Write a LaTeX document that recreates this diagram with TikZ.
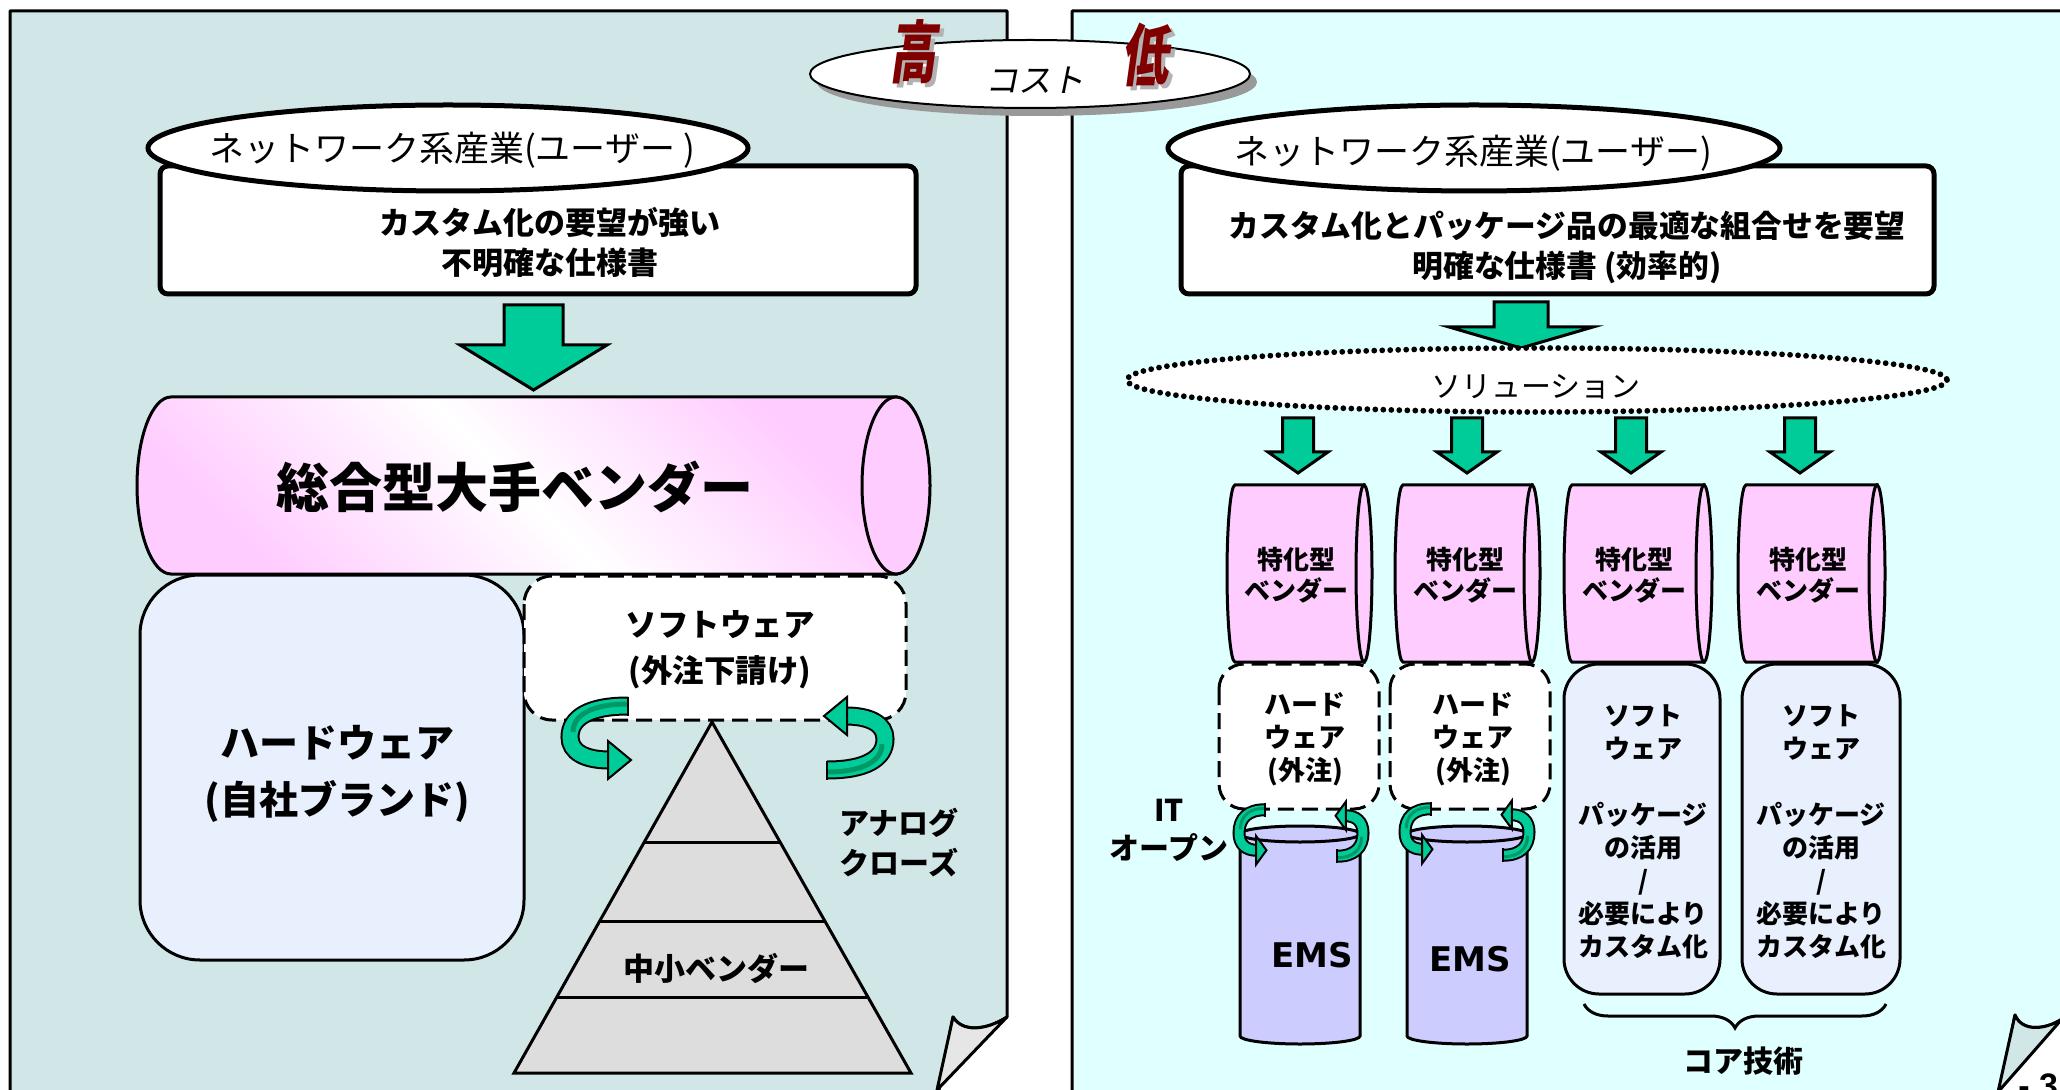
\documentclass[tikz,border=0pt]{standalone}
\usepackage{fontspec}
\newfontfamily\jp{Noto Sans CJK JP}
\newfontfamily\jpsl{Noto Sans CJK JP}[FakeSlant=0.2]
\newfontfamily\emsfont{DejaVu Sans}
\newfontfamily\pgfont{Liberation Sans}
\usetikzlibrary{decorations.pathreplacing}
\definecolor{leftbg}{HTML}{D1E6E6}
\definecolor{rightbg}{HTML}{E0FFFF}
\definecolor{garr}{HTML}{00CC99}
\definecolor{gdark}{HTML}{009966}
\definecolor{pinkc}{HTML}{FFCCFF}
\definecolor{lav}{HTML}{E8F0FE}
\definecolor{emsc}{HTML}{CCCCFF}
\definecolor{pyr}{HTML}{DDDDDD}
\definecolor{dred}{HTML}{800000}
\definecolor{foldg}{HTML}{E6E6E6}
\newcommand\fs[2]{\fontsize{#1}{#2}\selectfont}
\tikzset{
  panel/.style={draw=black, line width=1.5pt, line join=round},
  bx/.style={draw=black, line width=1.5pt},
  thickbx/.style={draw=black, line width=2.5pt},
  garrow/.style={fill=garr, draw=black, line width=1.5pt, line join=miter},
  dashbx/.style={draw=black, line width=1.5pt, dash pattern=on 8pt off 4pt, fill=white},
  lbl/.style={inner sep=0pt, align=center},
}
% block down arrow: cx, ytop, yhead, ytip, shaft half, head half
\newcommand\dnarrow[6]{%
  \draw[garrow] ({#1-#5},#2) -- ({#1+#5},#2) -- ({#1+#5},#3) -- ({#1+#6},#3) -- (#1,#4) -- ({#1-#6},#3) -- ({#1-#5},#3) -- cycle;}
% curved arrow: x, y, rotate, xscale, yscale, outer width, inner width, dark width
\newcommand\curv[8]{%
  \begin{scope}[shift={(#1,#2)}, rotate=#3, xscale=#4, yscale=#5]
    \draw[line width=#6, black] (58,-31) .. controls (20,-31) and (0,-20) .. (0,0) .. controls (0,15) and (15,23) .. (39,23);
    \draw[line width=#7, garr] (58,-31) .. controls (20,-31) and (0,-20) .. (0,0) .. controls (0,15) and (15,23) .. (39.5,23);
    \draw[line width=#8, gdark] (58,-33) .. controls (22,-33) and (3,-22) .. (3,-5);
    \draw[line width=1pt] (58,-40.5) -- (58,-21.5);
    \draw[line width=1pt, fill=garr, line join=miter] (38,4) -- (61,23) -- (38,42) -- cycle;
  \end{scope}}
% small pink cylinder: leftmost x, rightmost x
\newcommand\pinkcyl[2]{%
  \draw[bx, fill=pinkc] ({#2-8},485) -- ({#1+8},485) arc[start angle=270, end angle=90, x radius=8, y radius=88.5] -- ({#2-8},662) -- cycle;
  \draw[bx, fill=pinkc] ({#2-8},573.5) ellipse[x radius=8, y radius=88.5];}
% EMS cylinder: left x, right x
\newcommand\emscyl[2]{%
  \draw[bx, fill=emsc] (#1,834) -- (#1,1036) arc[start angle=180, end angle=0, x radius={(#2-#1)/2}, y radius=8] -- (#2,834) -- cycle;
  \draw[bx, fill=emsc] ({(#1+#2)/2},834) ellipse[x radius={(#2-#1)/2}, y radius=8];}
\begin{document}
\begin{tikzpicture}[x=0.5pt,y=-0.5pt]
\useasboundingbox (0,0) rectangle (2060,1090);
\clip (0,0) rectangle (2060,1090);
\fill[white] (0,0) rectangle (2060,1090);

% ---------- panels ----------
\draw[panel, fill=leftbg] (10,1100) -- (10,11) -- (1007,11) -- (1007,1017) .. controls (985,1031) and (962,1032) .. (953,1017) -- (937,1100);
\draw[panel, fill=foldg] (953,1017) .. controls (962,1032) and (985,1031) .. (1007,1017) -- (937,1090) -- cycle;
\draw[panel, fill=rightbg] (1072,1100) -- (1072,11) -- (2075,11) -- (2075,1012) -- (2062,1019) .. controls (2045,1030) and (2022,1032) .. (2015,1015) -- (1998,1100);
\draw[panel, fill=leftbg] (2015,1015) .. controls (2022,1032) and (2045,1030) .. (2062,1019) -- (1998,1092) -- cycle;
\node[anchor=base west, inner sep=0pt, font=\pgfont\bfseries\fs{17}{17}] (pageno) at (2018,1097) {- 3 -};

% ---------- cost ellipse ----------
\fill[black!40] (1037,82) ellipse[x radius=220, y radius=34];
\draw[line width=1pt, fill=white] (1030,74) ellipse[x radius=220, y radius=34];
\node[lbl, font=\jpsl\fs{16.5}{16.5}] (cost) at (1035,80) {コスト};
\node[lbl, font=\jpsl\bfseries\fs{26}{26}, text=black!30] at (917,56) {\scalebox{0.9}[1.3]{高}};
\node[lbl, font=\jpsl\bfseries\fs{26}{26}, text=dred] (hi) at (913,52) {\scalebox{0.9}[1.3]{高}};
\node[lbl, font=\jpsl\bfseries\fs{26}{26}, text=black!30] at (1149,59) {\scalebox{0.9}[1.3]{低}};
\node[lbl, font=\jpsl\bfseries\fs{26}{26}, text=dred] (lo) at (1145,55) {\scalebox{0.9}[1.3]{低}};

% ---------- left panel ----------
\draw[thickbx, fill=white, rounded corners=4pt] (160,166) rectangle (916,294);
\draw[thickbx, fill=white] (448,148) ellipse[x radius=300, y radius=43];
\node[lbl, font=\jp\fs{17.5}{17.5}] (userL) at (452,150) {ネットワーク系産業(ユーザー )};
\node[lbl, font=\jp\bfseries\fs{15.5}{20}] (reqL) at (550,243) {カスタム化の要望が強い\\不明確な仕様書};
\dnarrow{533.5}{305}{345}{390}{29.5}{73.5}

% big cylinder
\draw[bx, shading=axis, top color=pinkc, bottom color=pinkc, middle color=white, shading angle=135]
  (896,397) -- (171,397) arc[start angle=270, end angle=90, x radius=34, y radius=88.5] -- (896,574) -- cycle;
\draw[bx, fill=pinkc] (896,485.5) ellipse[x radius=34, y radius=88.5];
\node[lbl, font=\jp\bfseries\fs{26.5}{26.5}] (bigvendor) at (515,487) {総合型大手ベンダー};

% hardware / software
\draw[bx, fill=lav, rounded corners=30pt] (140,575) rectangle (524,960);
\node[lbl, font=\jp\bfseries\fs{19.5}{28.5}] (hwL) at (337,774) {ハードウェア\\(自社ブランド)};
\draw[dashbx, rounded corners=14pt] (524,576) rectangle (906,720);
\node[lbl, font=\jp\bfseries\fs{15.75}{23}] (swL) at (720,650) {ソフトウェア\\(外注下請け)};

% pyramid
\draw[bx, fill=pyr, line join=miter] (712,722) -- (911,1073) -- (514,1073) -- cycle;
\draw[bx] (644.3,842) -- (780,842);
\draw[bx] (599.7,921) -- (824.8,921);
\draw[bx] (556.9,997) -- (868.9,997);
\node[lbl, font=\jp\bfseries\fs{15.5}{15.5}] (small) at (716,968) {中小ベンダー};
\node[lbl, font=\jp\bfseries\fs{15}{20}] (analog) at (899,843) {アナログ\\クローズ};

\curv{570}{737}{0}{1}{1}{9.5pt}{7.5pt}{2.5pt}
\curv{885}{739}{180}{1}{1}{9.5pt}{7.5pt}{2.5pt}

% ---------- right panel ----------
\draw[thickbx, fill=white, rounded corners=4pt] (1181,166) rectangle (1934,294);
\draw[thickbx, fill=white] (1474,148) ellipse[x radius=306, y radius=43];
\node[lbl, font=\jp\fs{17.5}{17.5}] (userR) at (1473,153) {ネットワーク系産業(ユーザー)};
\node[lbl, font=\jp\bfseries\fs{15.4}{20}] (reqR) at (1567,247) {カスタム化とパッケージ品の最適な組合せを要望\\明確な仕様書 (効率的)};
\dnarrow{1521}{302}{327}{348}{27}{72}

\draw[line width=2.9pt, dash pattern=on 0pt off 4pt, line cap=round, fill=white] (1537,380) ellipse[x radius=410, y radius=32];
\node[lbl, font=\jp\fs{15}{15}] (sol) at (1536,387) {ソリューション};

\dnarrow{1298}{418}{452}{473}{15.5}{30}
\dnarrow{1467}{418}{452}{473}{15.5}{30}
\dnarrow{1631}{418}{452}{473}{15.5}{30}
\dnarrow{1800}{418}{452}{473}{15.5}{30}

\pinkcyl{1227}{1372}
\pinkcyl{1395}{1540}
\pinkcyl{1564}{1712}
\pinkcyl{1738}{1885}
\node[lbl, font=\jp\bfseries\fs{13}{15.5}] (sv1) at (1296,575) {特化型\\ベンダー};
\node[lbl, font=\jp\bfseries\fs{13}{15.5}] (sv2) at (1465,575) {特化型\\ベンダー};
\node[lbl, font=\jp\bfseries\fs{13}{15.5}] (sv3) at (1634,575) {特化型\\ベンダー};
\node[lbl, font=\jp\bfseries\fs{13}{15.5}] (sv4) at (1808,575) {特化型\\ベンダー};

\draw[dashbx, rounded corners=12.5pt] (1219,664) rectangle (1379,809);
\draw[dashbx, rounded corners=12.5pt] (1390,664) rectangle (1550,809);
\node[lbl, font=\jp\bfseries\fs{13.5}{16.5}] (hw1) at (1305,739) {ハード\\ウェア\\(外注)};
\node[lbl, font=\jp\bfseries\fs{13.5}{16.5}] (hw2) at (1473,739) {ハード\\ウェア\\(外注)};

\draw[bx, fill=lav, rounded corners=17.5pt] (1564,664) rectangle (1720,994);
\draw[bx, fill=lav, rounded corners=17.5pt] (1742,664) rectangle (1900,994);
\node[lbl, font=\jp\bfseries\fs{13}{16.5}] (sw1) at (1643,832) {ソフト\\ウェア\\[16.5pt]パッケージ\\の活用\\/\\必要により\\カスタム化};
\node[lbl, font=\jp\bfseries\fs{13}{16.5}] (sw2) at (1821,832) {ソフト\\ウェア\\[16.5pt]パッケージ\\の活用\\/\\必要により\\カスタム化};

\emscyl{1240}{1360}
\emscyl{1407}{1527}
\node[lbl, font=\emsfont\bfseries\fs{17}{17}] (ems1) at (1312,955) {EMS};
\node[lbl, font=\emsfont\bfseries\fs{17}{17}] (ems2) at (1470,959) {EMS};

\curv{1239}{833}{0}{0.45}{0.75}{6.5pt}{4.5pt}{1.5pt}
\curv{1363}{833}{180}{0.45}{0.75}{6.5pt}{4.5pt}{1.5pt}
\curv{1405}{832}{0}{0.45}{0.75}{6.5pt}{4.5pt}{1.5pt}
\curv{1529}{832}{180}{0.45}{0.75}{6.5pt}{4.5pt}{1.5pt}

\node[lbl, font=\jp\bfseries\fs{15}{19}] (itopen) at (1169,830) {IT\\オープン};

\draw[line width=1.5pt, decorate, decoration={brace, amplitude=12pt}] (1886,1004) -- (1584,1004);
\node[lbl, font=\jp\bfseries\fs{15}{15}] (core) at (1743,1061) {コア技術};
\end{tikzpicture}
\end{document}
